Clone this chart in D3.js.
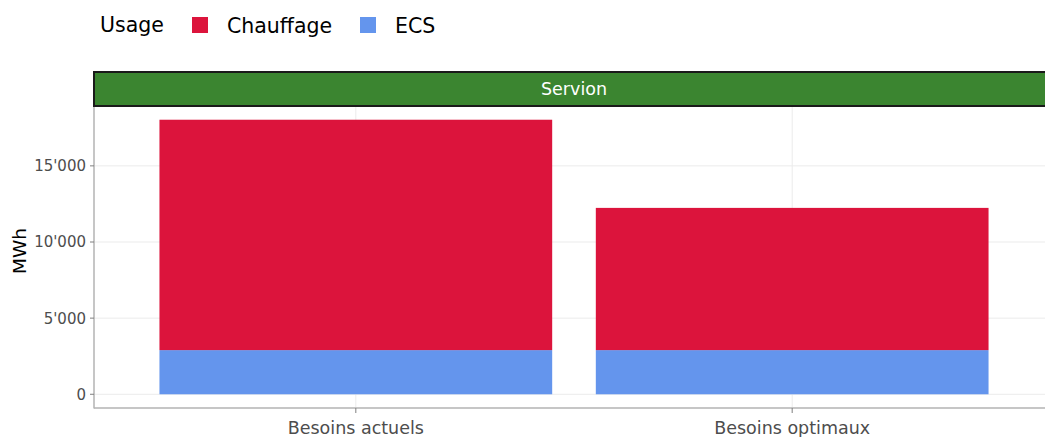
<!DOCTYPE html>
<html>
<head>
<meta charset="utf-8">
<script src="https://cdn.jsdelivr.net/npm/d3@7"></script>
<style>
  html, body { margin: 0; padding: 0; background: #fff; overflow: hidden; }
  svg { display: block; font-family: "DejaVu Sans", Verdana, sans-serif; }
</style>
</head>
<body>
<svg id="chart" width="1045" height="437"></svg>
<script>
const categories = ["Besoins actuels", "Besoins optimaux"];
const seriesNames = ["Chauffage", "ECS"];
const chauffage = [15130, 9340];
const ecs = [2900, 2900];
const yTicks = [0, 5000, 10000, 15000];
const yTickLabels = ["0", "5'000", "10'000", "15'000"];
const facetLabel = "Servion";
const yTitle = "MWh";
const legendTitle = "Usage";
const colors = ["#DC143C", "#6495ED"];

const svg = d3.select("#chart");
const panel = {left: 94, right: 1054, top: 106, bottom: 408};
const strip = {top: 72, bottom: 106};

const totals = categories.map((c, i) => chauffage[i] + ecs[i]);
const maxV = d3.max(totals);
const y = d3.scaleLinear().domain([-0.05 * maxV, 1.05 * maxV]).range([panel.bottom, panel.top]);
const xPos = d3.scaleLinear().domain([0.4, categories.length + 0.6]).range([panel.left, panel.right]);
const barW = 0.9;

// grid
const grid = svg.append("g");
grid.selectAll("line.h").data(yTicks).join("line")
  .attr("x1", panel.left).attr("x2", panel.right)
  .attr("y1", d => y(d)).attr("y2", d => y(d))
  .attr("stroke", "#ebebeb").attr("stroke-width", 1);
grid.selectAll("line.v").data(categories).join("line")
  .attr("x1", (d, i) => xPos(i + 1)).attr("x2", (d, i) => xPos(i + 1))
  .attr("y1", panel.top).attr("y2", panel.bottom)
  .attr("stroke", "#ebebeb").attr("stroke-width", 1);

// stacked bars
const stackData = categories.map((c, i) => ({cat: c, i: i, ECS: ecs[i], Chauffage: chauffage[i]}));
const stack = d3.stack().keys(["ECS", "Chauffage"])(stackData);
const colorOf = {Chauffage: colors[0], ECS: colors[1]};
svg.append("g").selectAll("g").data(stack).join("g")
  .attr("fill", s => colorOf[s.key])
  .selectAll("rect").data(s => s).join("rect")
  .attr("x", d => xPos(d.data.i + 1 - barW / 2))
  .attr("width", d => xPos(barW) - xPos(0))
  .attr("y", d => y(d[1]))
  .attr("height", d => y(d[0]) - y(d[1]));

// axes lines
svg.append("line").attr("x1", panel.left).attr("x2", panel.left)
  .attr("y1", panel.top).attr("y2", panel.bottom + 0.5)
  .attr("stroke", "#b3b3b3").attr("stroke-width", 1.5);
svg.append("line").attr("x1", panel.left).attr("x2", panel.right)
  .attr("y1", panel.bottom).attr("y2", panel.bottom)
  .attr("stroke", "#b3b3b3").attr("stroke-width", 1.5);

// y ticks
const yt = svg.append("g");
yt.selectAll("line").data(yTicks).join("line")
  .attr("x1", panel.left - 4).attr("x2", panel.left)
  .attr("y1", d => y(d)).attr("y2", d => y(d))
  .attr("stroke", "#7f7f7f");
yt.selectAll("text").data(yTicks).join("text")
  .attr("x", panel.left - 8).attr("y", d => y(d))
  .attr("dy", "0.36em").attr("text-anchor", "end")
  .attr("font-size", 15).attr("fill", "#4d4d4d")
  .text((d, i) => yTickLabels[i]);

// x ticks
const xt = svg.append("g");
xt.selectAll("line").data(categories).join("line")
  .attr("x1", (d, i) => xPos(i + 1)).attr("x2", (d, i) => xPos(i + 1))
  .attr("y1", panel.bottom).attr("y2", panel.bottom + 5)
  .attr("stroke", "#7f7f7f");
xt.selectAll("text").data(categories).join("text")
  .attr("x", (d, i) => xPos(i + 1)).attr("y", 434)
  .attr("text-anchor", "middle")
  .attr("font-size", 17.5).attr("fill", "#4d4d4d")
  .text(d => d);

// y title
svg.append("text")
  .attr("transform", "translate(26,251) rotate(-90)")
  .attr("text-anchor", "middle")
  .attr("font-size", 18.5).attr("fill", "#000")
  .text(yTitle);

// strip
svg.append("rect")
  .attr("x", panel.left).attr("y", strip.top)
  .attr("width", panel.right - panel.left).attr("height", strip.bottom - strip.top)
  .attr("fill", "#3b8530").attr("stroke", "#1a1a1a").attr("stroke-width", 2);
svg.append("text")
  .attr("x", (panel.left + panel.right) / 2).attr("y", (strip.top + strip.bottom) / 2)
  .attr("dy", "0.36em").attr("text-anchor", "middle")
  .attr("font-size", 17.5).attr("fill", "#ffffff")
  .text(facetLabel);

// legend
const lg = svg.append("g");
lg.append("text").attr("x", 100).attr("y", 32).attr("font-size", 20.5).attr("fill", "#000").text(legendTitle);
const legX = [192, 360];
const legTX = [227, 395];
seriesNames.forEach((n, i) => {
  lg.append("rect").attr("x", legX[i]).attr("y", 17).attr("width", 16).attr("height", 16).attr("fill", colors[i]);
  lg.append("text").attr("x", legTX[i]).attr("y", 33).attr("font-size", 20.5).attr("fill", "#000").text(n);
});
</script>
</body>
</html>
